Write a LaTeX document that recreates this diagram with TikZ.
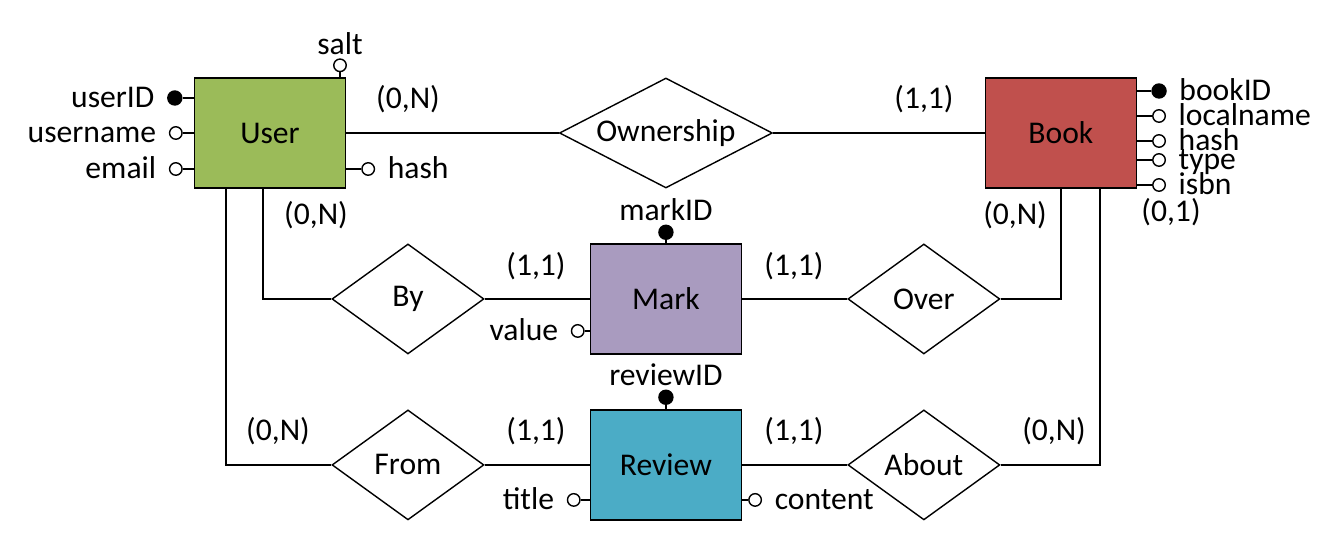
\documentclass[tikz,border=0pt]{standalone}
\usepackage{fontspec}
\setmainfont{Carlito}
\usetikzlibrary{shapes.geometric,positioning}
\definecolor{userGreen}{HTML}{9BBB59}
\definecolor{bookRed}{HTML}{C0504D}
\definecolor{markPurple}{HTML}{A99BBF}
\definecolor{reviewBlue}{HTML}{4BACC6}
\tikzset{
  entity/.style={draw, minimum width=3.02cm, minimum height=2.2cm, inner sep=0pt},
  relation/.style={draw, diamond, minimum width=3.04cm, minimum height=2.2cm, inner sep=0pt, aspect=1.9},
  attr/.style={draw, circle, inner sep=0pt, minimum size=0.25cm, fill=white},
  keyattr/.style={attr, fill=black, minimum size=0.28cm},
  attrL/.style={label={[label distance=0.24cm]left:#1}},
  attrR/.style={label={[label distance=0.24cm]right:#1}},
  attrU/.style={label={[label distance=2pt]above:#1}},
  card/.style={inner sep=0pt},
  every label/.style={inner sep=0pt, text height=10.5pt, text depth=0pt}
}
\begin{document}
\begin{tikzpicture}[x=0.02cm, y=-0.02cm, node distance=2cm, on grid,
  font=\fontsize{18}{20}\selectfont, line width=0.8pt]
\useasboundingbox (0,0) rectangle (1333,546);
% entities and relationships
\node (user) [entity, fill=userGreen] at (270,133) {User};
\node (ownership) [relation, right=7.92cm of user, minimum width=4.26cm] {Ownership};
\node (book) [entity, fill=bookRed, right=7.9cm of ownership] {Book};
\node (mark) [entity, fill=markPurple, below=3.32cm of ownership] {Mark};
\node (review) [entity, fill=reviewBlue, below=3.32cm of mark] {Review};
\node (by) [relation, left=5.16cm of mark] {By};
\node (over) [relation, right=5.16cm of mark] {Over};
\node (from) [relation, left=5.16cm of review] {From};
\node (about) [relation, right=5.16cm of review] {About};

\coordinate (userA) at ([xshift=-0.88cm]user.south);
\coordinate (userB) at ([xshift=-0.14cm]user.south);
\coordinate (bookB) at ([xshift=0.78cm]book.south);

\draw (user) -- (ownership) -- (book);
\draw (by) -- (mark) -- (over);
\draw (from) -- (review) -- (about);
\draw (userB) |- (by);
\draw (userA) |- (from);
\draw (over) -| (book);
\draw (about) -| (bookB);

% attributes of User
\node (userID) [keyattr, attrL=userID] at ([shift={(-19,-35)}]user.west) {};
\node (username) [attr, attrL=username] at ([shift={(-18,0)}]user.west) {};
\node (email) [attr, attrL=email] at ([shift={(-18,36)}]user.west) {};
\node (salt) [attr, attrU=salt] at ([shift={(70,-12)}]user.north) {};
\node (userHash) [attr, attrR=hash] at ([shift={(22,36)}]user.east) {};
\foreach \a in {userID,username,email} \draw (\a) -- (\a -| user.west);
\draw (salt) -- (salt |- user.north);
\draw (userHash) -- (userHash -| user.east);

% attributes of Book
\node (bookID) [keyattr, attrR=bookID] at ([shift={(22,-42)}]book.east) {};
\foreach \a/\dy in {localname/-17, hash/8, type/27, isbn/52}
  \node (book-\a) [attr, attrR=\a] at ([shift={(22,\dy)}]book.east) {};
\foreach \a in {bookID,book-localname,book-hash,book-type,book-isbn} \draw (\a) -- (\a -| book.east);

% attributes of Mark and Review
\node (markID) [keyattr, attrU=markID] at ([shift={(0,-11)}]mark.north) {};
\node (value) [attr, attrL=value] at ([shift={(-12,32)}]mark.west) {};
\node (reviewID) [keyattr, attrU=reviewID] at ([shift={(0,-12)}]review.north) {};
\node (title) [attr, attrL=title] at ([shift={(-16,35)}]review.west) {};
\node (content) [attr, attrR=content] at ([shift={(13,35)}]review.east) {};
\draw (markID) -- (mark);
\draw (value) -- (value -| mark.west);
\draw (reviewID) -- (review);
\draw (title) -- (title -| review.west);
\draw (content) -- (content -| review.east);

% cardinalities
\foreach \pos/\txt [count=\i] in {{(408,99)}/{(0,N)}, {(924,99)}/{(1,1)}, {(316,215)}/{(0,N)},
    {(536,266)}/{(1,1)}, {(794,266)}/{(1,1)}, {(1015,215)}/{(0,N)}, {(1171,212)}/{(0,1)},
    {(278,431)}/{(0,N)}, {(536,431)}/{(1,1)}, {(794,431)}/{(1,1)}, {(1054,431)}/{(0,N)}}
  \node (card\i) [card] at \pos {\txt};
\end{tikzpicture}
\end{document}
